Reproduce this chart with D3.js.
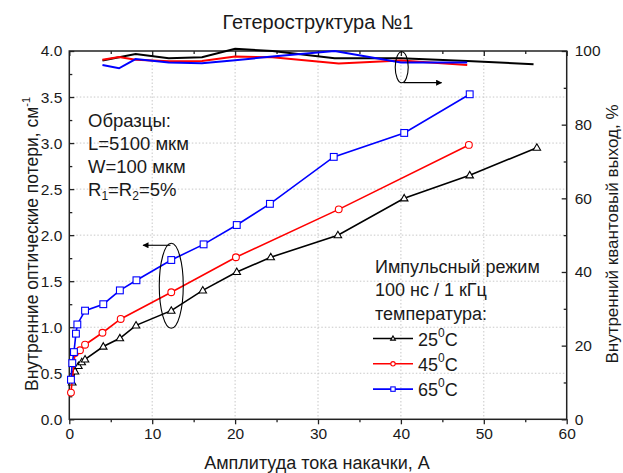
<!DOCTYPE html>
<html><head><meta charset="utf-8">
<script src="https://cdn.jsdelivr.net/npm/d3@7"></script>
<style>
body{margin:0;background:#fff;}
svg{font-family:"Liberation Sans",Arial,sans-serif;}
</style></head>
<body><svg id="c" width="623" height="473"></svg>
<script>
// ---- data ----
const xTicks = [0,10,20,30,40,50,60];
const yTicks = [0,0.5,1,1.5,2,2.5,3,3.5,4];
const y2Ticks = [0,20,40,60,80,100];

const lossX25 = [0.36,0.69,1.1,1.5,1.9,4.1,6.1,8.05,12.3,16.1,20.2,24.3,32.4,40.4,48.3,56.4];
const lossY25 = [0.40,0.52,0.58,0.62,0.65,0.79,0.88,1.02,1.18,1.40,1.60,1.76,2.00,2.40,2.65,2.95];
const lossX45 = [0.2,0.69,1.29,1.9,4.0,6.2,12.3,20.1,32.5,48.2];
const lossY45 = [0.29,0.72,0.75,0.81,0.94,1.09,1.38,1.76,2.28,2.98];
const lossX65 = [0.2,0.36,0.56,0.8,0.97,1.9,4.1,6.1,8.1,12.3,16.2,20.2,24.2,31.9,40.4,48.3];
const lossY65 = [0.43,0.61,0.73,0.93,1.03,1.18,1.25,1.40,1.51,1.73,1.90,2.11,2.34,2.85,3.11,3.53];

const qeX25 = [4,8,12,16,20,24.5,32,40,48,56];
const qeY25 = [97.4,99.2,98.0,98.3,100.6,100.0,98.0,98.0,97.3,96.4];
const qeX45 = [4,6,8,12,16,20,24.5,32.5,40,48];
const qeY45 = [97.6,98.4,97.6,97.2,97.3,98.5,98.3,96.6,97.4,96.2];
const qeX65 = [4,6,8,12,16,20,24.5,32,40,48];
const qeY65 = [96.2,95.3,97.8,96.9,96.7,97.5,98.5,100.0,96.9,96.9];

const seriesNames = ["25","45","65"];
const colors = ["#000000","#ff0000","#0000ff"];
const markers = ["triangle","circle","square"];

const title = "Гетероструктура №1";
const xLabel = "Амплитуда тока накачки, А";
const yLabel = "Внутренние оптические потери, см";
const y2Label = "Внутренний квантовый выход, %";
const noteLines = ["Образцы:","L=5100 мкм","W=100 мкм"];
const legendHead = ["Импульсный режим","100 нс / 1 кГц","температура:"];

// ---- layout ----
const svg = d3.select("#c");
const L=69.3, R=566.7, T=51, B=419.3;
const x = d3.scaleLinear().domain([0,60]).range([L,R]);
const y = d3.scaleLinear().domain([0,4]).range([B,T]);
const y2 = d3.scaleLinear().domain([0,100]).range([B,T]);
const txt = "#1a1a1a";

// grid
const g = svg.append("g");
g.selectAll(".gx").data(xTicks.filter(d=>d>0&&d<60)).join("line")
 .attr("x1",d=>x(d)).attr("x2",d=>x(d)).attr("y1",T).attr("y2",B)
 .attr("stroke","#c8c8c8").attr("stroke-width",1).attr("stroke-dasharray","1.5,2");
g.selectAll(".gy").data(yTicks.filter(d=>d>0&&d<4)).join("line")
 .attr("y1",d=>y(d)).attr("y2",d=>y(d)).attr("x1",L).attr("x2",R)
 .attr("stroke","#c8c8c8").attr("stroke-width",1).attr("stroke-dasharray","1.5,2");

// axes
function styleAxis(sel){
  sel.select(".domain").remove();
  sel.selectAll("line").attr("stroke","#222").attr("stroke-width",1.3);
  sel.selectAll("text").attr("fill",txt).style("font-size","15.5px").style("font-family","'Liberation Sans',Arial,sans-serif");
}
const minorX = d3.range(5,60,10);
const minorY = d3.range(0.25,4,0.5);
const minorY2 = d3.range(10,100,20);

svg.append("g").attr("transform",`translate(0,${B})`)
 .call(d3.axisBottom(x).tickValues(xTicks).tickSize(5).tickPadding(4).tickFormat(d3.format("d"))).call(styleAxis);
svg.append("g").attr("transform",`translate(0,${B})`)
 .call(d3.axisBottom(x).tickValues(minorX).tickSize(3).tickFormat("")).call(styleAxis);
svg.append("g").attr("transform",`translate(0,${T})`)
 .call(d3.axisTop(x).tickValues(xTicks).tickSize(-5).tickFormat("")).call(styleAxis);
svg.append("g").attr("transform",`translate(0,${T})`)
 .call(d3.axisTop(x).tickValues(minorX).tickSize(-3).tickFormat("")).call(styleAxis);
svg.append("g").attr("transform",`translate(${L},0)`)
 .call(d3.axisLeft(y).tickValues(yTicks).tickSize(-5).tickPadding(7).tickFormat(d3.format(".1f"))).call(styleAxis);
svg.append("g").attr("transform",`translate(${L},0)`)
 .call(d3.axisLeft(y).tickValues(minorY).tickSize(-3).tickFormat("")).call(styleAxis);
svg.append("g").attr("transform",`translate(${R},0)`)
 .call(d3.axisRight(y2).tickValues(y2Ticks).tickSize(-5).tickPadding(8).tickFormat(d3.format("d"))).call(styleAxis);
svg.append("g").attr("transform",`translate(${R},0)`)
 .call(d3.axisRight(y2).tickValues(minorY2).tickSize(-3).tickFormat("")).call(styleAxis);

// frame
svg.append("rect").attr("x",L).attr("y",T).attr("width",R-L).attr("height",B-T)
 .attr("fill","none").attr("stroke","#222").attr("stroke-width",1.5);

// lines
const lossSets = [[lossX25,lossY25],[lossX45,lossY45],[lossX65,lossY65]];
const qeSets = [[qeX25,qeY25],[qeX45,qeY45],[qeX65,qeY65]];
const line = d3.line().x(d=>x(d[0])).y(d=>y(d[1]));
const line2 = d3.line().x(d=>x(d[0])).y(d=>y2(d[1]));

qeSets.forEach((s,i)=>{
  const pts = s[0].map((v,k)=>[v,s[1][k]]);
  svg.append("path").attr("d",line2(pts)).attr("fill","none").attr("stroke",colors[i]).attr("stroke-width",2);
});

function drawMarker(sel,type,cx,cy,col,r){
  if(type==="circle") sel.append("circle").attr("cx",cx).attr("cy",cy).attr("r",r).attr("fill","#fff").attr("stroke",col).attr("stroke-width",1.1);
  else if(type==="square") sel.append("rect").attr("x",cx-r).attr("y",cy-r).attr("width",2*r).attr("height",2*r).attr("fill","#fff").attr("stroke",col).attr("stroke-width",1.1);
  else sel.append("path").attr("d",`M${cx},${cy-r*1.15}L${cx+r*1.1},${cy+r*0.75}L${cx-r*1.1},${cy+r*0.75}Z`).attr("fill","#fff").attr("stroke",col).attr("stroke-width",1.1);
}

lossSets.forEach((s,i)=>{
  const pts = s[0].map((v,k)=>[v,s[1][k]]);
  svg.append("path").attr("d",line(pts)).attr("fill","none").attr("stroke",colors[i]).attr("stroke-width",1.6);
  const mg = svg.append("g");
  pts.forEach(p=>drawMarker(mg,markers[i],x(p[0]),y(p[1]),colors[i],3.4));
});

// arrows & ellipses
const defs = svg.append("defs");
defs.append("marker").attr("id","ah").attr("viewBox","0 0 10 10").attr("refX",9).attr("refY",5)
 .attr("markerWidth",9).attr("markerHeight",6).attr("markerUnits","userSpaceOnUse").attr("orient","auto")
 .append("path").attr("d","M0,0L10,5L0,10Z").attr("fill","#000");

svg.append("ellipse").attr("cx",x(12.3)).attr("cy",y(1.45)).attr("rx",12).attr("ry",42.5)
 .attr("fill","none").attr("stroke","#000").attr("stroke-width",1.1);
svg.append("line").attr("x1",x(12.2)).attr("y1",y(1.89)).attr("x2",x(8.9)).attr("y2",y(1.89))
 .attr("stroke","#000").attr("stroke-width",1.1).attr("marker-end","url(#ah)");

svg.append("ellipse").attr("cx",x(40.1)).attr("cy",y2(95.6)).attr("rx",6.5).attr("ry",15.5)
 .attr("fill","none").attr("stroke","#000").attr("stroke-width",1.1);
svg.append("line").attr("x1",x(40.3)).attr("y1",y2(91.4)).attr("x2",x(44.9)).attr("y2",y2(91.4))
 .attr("stroke","#000").attr("stroke-width",1.1).attr("marker-end","url(#ah)");

// title & axis labels
svg.append("text").attr("x",318).attr("y",29).attr("text-anchor","middle").attr("fill",txt)
 .style("font-size","20px").text(title);
svg.append("text").attr("x",317).attr("y",468.5).attr("text-anchor","middle").attr("fill",txt)
 .style("font-size","18px").text(xLabel);
const yl = svg.append("text").attr("transform","translate(38,244) rotate(-90)").attr("text-anchor","middle")
 .attr("fill",txt).style("font-size","17.5px");
yl.append("tspan").text(yLabel);
yl.append("tspan").attr("dy",-8).style("font-size","11px").text("-1");
svg.append("text").attr("transform","translate(618,234) rotate(-90)").attr("text-anchor","middle")
 .attr("fill",txt).style("font-size","17px").text(y2Label);

// notes
noteLines.forEach((t,i)=>{
  svg.append("text").attr("x",88).attr("y",127+i*23).attr("fill",txt).style("font-size","18.5px").text(t);
});
const rt = svg.append("text").attr("x",88).attr("y",196).attr("fill",txt).style("font-size","18.5px");
rt.append("tspan").text("R");
rt.append("tspan").attr("dy",4).style("font-size","12px").text("1");
rt.append("tspan").attr("dy",-4).text("=R");
rt.append("tspan").attr("dy",4).style("font-size","12px").text("2");
rt.append("tspan").attr("dy",-4).text("=5%");

// legend
legendHead.forEach((t,i)=>{
  svg.append("text").attr("x",375).attr("y",272.5+i*23.5).attr("fill",txt).style("font-size","18px").text(t);
});
seriesNames.forEach((n,i)=>{
  const ly = 338.5+i*25.3;
  svg.append("line").attr("x1",373).attr("x2",413).attr("y1",ly).attr("y2",ly).attr("stroke",colors[i]).attr("stroke-width",1.6);
  drawMarker(svg,markers[i],393,ly,colors[i],2.2);
  const t = svg.append("text").attr("x",418).attr("y",ly+7).attr("fill",txt).style("font-size","18px");
  t.append("tspan").text(n);
  t.append("tspan").attr("dy",-9).style("font-size","12px").text("0");
  t.append("tspan").attr("dy",9).text("C");
});
</script></body></html>
